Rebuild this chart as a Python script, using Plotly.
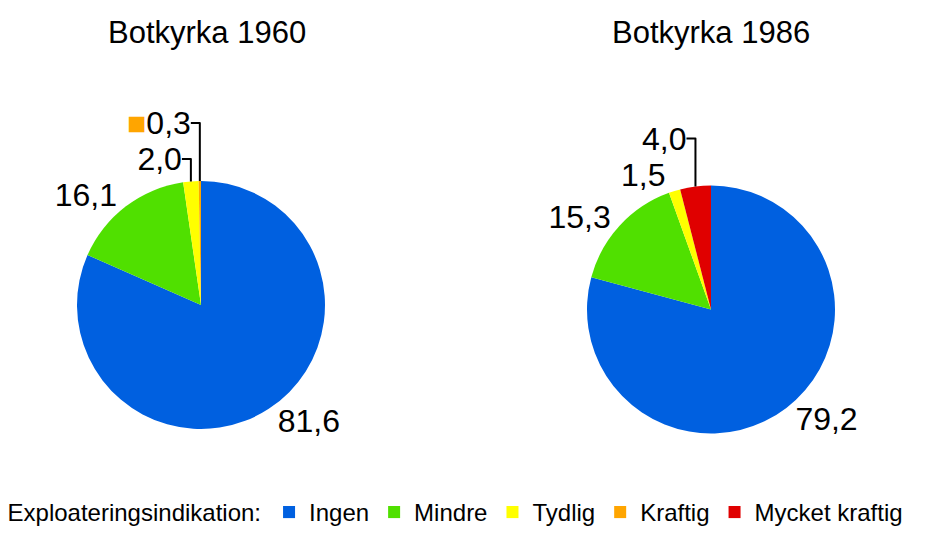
import plotly.graph_objects as go

categories = ["Ingen", "Mindre", "Tydlig", "Kraftig", "Mycket kraftig"]
colors = {"Ingen": "#0060E0", "Mindre": "#50E000", "Tydlig": "#FFFF00",
          "Kraftig": "#FFA500", "Mycket kraftig": "#E00000"}

labels_1960 = ["Ingen", "Mindre", "Tydlig", "Kraftig"]
values_1960 = [81.6, 16.1, 2.0, 0.3]

labels_1986 = ["Ingen", "Mindre", "Tydlig", "Mycket kraftig"]
values_1986 = [79.2, 15.3, 1.5, 4.0]

titles = ["Botkyrka 1960", "Botkyrka 1986"]
legend_title = "Exploateringsindikation:"

FONT = "Liberation Sans, Arial, sans-serif"

def tmpl(labels):
    out = []
    for lab in labels:
        if lab == "Kraftig":
            out.append('<span style="color:#FFA500">■</span>%{value:.1f}')
        else:
            out.append('%{value:.1f}')
    return out

fig = go.Figure()
fig.add_trace(go.Pie(
    labels=labels_1960, values=values_1960, sort=False, direction="clockwise",
    rotation=0, marker=dict(colors=[colors[l] for l in labels_1960], line=dict(width=0)),
    textposition="outside", texttemplate=tmpl(labels_1960),
    textfont=dict(size=32, color="black", family=FONT),
    domain=dict(x=[77/925, 325/925], y=[106/535, 354/535]),
    hoverinfo="label+value", showlegend=True,
))
fig.add_trace(go.Pie(
    labels=labels_1986, values=values_1986, sort=False, direction="clockwise",
    rotation=0, marker=dict(colors=[colors[l] for l in labels_1986], line=dict(width=0)),
    textposition="outside", texttemplate=tmpl(labels_1986),
    textfont=dict(size=32, color="black", family=FONT),
    domain=dict(x=[587/925, 835/925], y=[101/535, 350/535]),
    hoverinfo="label+value", showlegend=True,
))

fig.add_annotation(text=titles[0], x=207/925, y=1 - 32/535, xref="paper", yref="paper",
                   xanchor="center", yanchor="middle",
                   showarrow=False, font=dict(size=31, color="black", family=FONT))
fig.add_annotation(text=titles[1], x=711/925, y=1 - 32/535, xref="paper", yref="paper",
                   xanchor="center", yanchor="middle",
                   showarrow=False, font=dict(size=31, color="black", family=FONT))

fig.update_layout(
    width=925, height=535,
    margin=dict(l=0, r=0, t=0, b=0),
    paper_bgcolor="white", plot_bgcolor="white",
    separators=", ",
    legend=dict(orientation="h", x=0.006, xanchor="left", y=0.0, yanchor="bottom",
                title=dict(text=legend_title, font=dict(size=24, color="black", family=FONT)),
                font=dict(size=24, color="black", family=FONT),
                traceorder="normal"),
    font=dict(family=FONT),
)

fig.write_html("out.html", config={"displayModeBar": False},
               post_script="document.body.style.margin='0px';")
